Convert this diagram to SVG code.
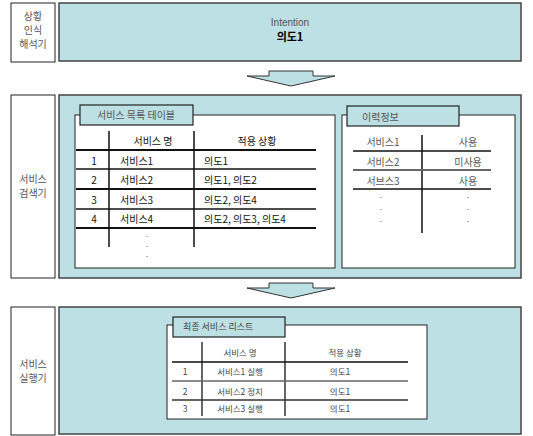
<svg xmlns="http://www.w3.org/2000/svg" width="533" height="436" viewBox="0 0 533 436">
<style>
.lbl{fill:#fff;stroke:#222;stroke-width:1}
.main{fill:#bce0e3;stroke:#444;stroke-width:1.5}
.panel{fill:#fff;stroke:#222;stroke-width:1}
.tab{fill:#bce0e3;stroke:#222;stroke-width:1.2}
.arrow{fill:#bce0e3;stroke:#333;stroke-width:1}
text{font-family:"Noto Sans CJK KR","Liberation Sans",sans-serif}
.side{font-size:10px;fill:#555;text-anchor:middle}
.t1{font-size:10px;fill:#111}
.t2{font-size:10px;fill:#555}
.t3{font-size:8.5px;fill:#444}
.dot{font-size:7px;fill:#222;text-anchor:middle}
.mid{text-anchor:middle}
.ln{stroke:#111;stroke-width:1.5}
.lg{stroke:#666;stroke-width:1.5}
</style>
<g id="row1-label"><rect class="lbl" x="11" y="3" width="44" height="59"/><text class="side" x="33" y="20">상황</text><text class="side" x="33" y="34">인식</text><text class="side" x="33" y="48">해석기</text></g>
<g id="row1-main"><rect class="main" x="59" y="3" width="462" height="58"/><text x="290" y="26" style="font-family:'Liberation Sans',sans-serif;font-size:10px;fill:#555;text-anchor:middle">Intention</text><text x="290" y="41" style="font-size:11px;font-weight:bold;fill:#000;text-anchor:middle">의도1</text></g>
<g id="row2-label"><rect class="lbl" x="11" y="95" width="44" height="183"/><text class="side" x="33" y="183">서비스</text><text class="side" x="33" y="197">검색기</text></g>
<g id="row2-main"><rect class="main" x="59" y="95" width="462" height="183"/></g>
<g id="service-table">
<rect class="panel" x="75" y="115" width="260" height="153"/>
<rect class="tab" x="80" y="105" width="113" height="20"/>
<text class="t2 mid" x="136" y="119">서비스 목록 테이블</text>
<line class="ln" x1="109" y1="131" x2="109" y2="247"/>
<line class="ln" x1="194" y1="131" x2="194" y2="247"/>
<line class="ln" x1="76" y1="150" x2="316" y2="150" style="stroke-width:2"/>
<line class="ln" x1="76" y1="169" x2="316" y2="169"/>
<line class="ln" x1="76" y1="189" x2="316" y2="189" style="stroke-width:2"/>
<line class="ln" x1="76" y1="209" x2="316" y2="209"/>
<line class="ln" x1="76" y1="228" x2="316" y2="228" style="stroke-width:2"/>
<text class="t1 mid" x="153" y="145">서비스 명</text>
<text class="t1 mid" x="257" y="145">적용 상황</text>
<text class="t1 mid" x="94" y="165">1</text><text class="t1" x="120" y="165">서비스1</text><text class="t1" x="204" y="165">의도1</text>
<text class="t1 mid" x="94" y="184">2</text><text class="t1" x="120" y="184">서비스2</text><text class="t1" x="204" y="184">의도1, 의도2</text>
<text class="t1 mid" x="94" y="204">3</text><text class="t1" x="120" y="204">서비스3</text><text class="t1" x="204" y="204">의도2, 의도4</text>
<text class="t1 mid" x="94" y="223">4</text><text class="t1" x="120" y="223">서비스4</text><text class="t1" x="204" y="223">의도2, 의도3, 의도4</text>
<text class="dot" x="147" y="237">.</text><text class="dot" x="147" y="247">.</text><text class="dot" x="147" y="257">.</text>
</g>
<g id="history">
<rect class="panel" x="342" y="115" width="173" height="153"/>
<rect class="tab" x="347" y="106" width="112" height="20"/>
<text class="t2" x="362" y="121">이력정보</text>
<line class="ln" x1="422" y1="135" x2="422" y2="233"/>
<line class="ln" x1="353" y1="151" x2="491" y2="151"/>
<line class="lg" x1="353" y1="170" x2="491" y2="170" style="stroke-width:2"/>
<line class="ln" x1="353" y1="189" x2="491" y2="189"/>
<text class="t2 mid" x="383" y="146">서비스1</text><text class="t2 mid" x="468" y="146">사용</text>
<text class="t2 mid" x="383" y="166">서비스2</text><text class="t2 mid" x="468" y="166">미사용</text>
<text class="t2 mid" x="383" y="185">서브스3</text><text class="t2 mid" x="468" y="185">사용</text>
<text class="dot" x="381" y="198">.</text><text class="dot" x="468" y="198">.</text>
<text class="dot" x="381" y="210">.</text><text class="dot" x="468" y="210">.</text>
<text class="dot" x="381" y="222">.</text><text class="dot" x="468" y="222">.</text>
</g>
<g id="row3-label"><rect class="lbl" x="11" y="307" width="44" height="128"/><text class="side" x="33" y="368">서비스</text><text class="side" x="33" y="382">실행기</text></g>
<g id="row3-main"><rect class="main" x="59" y="307" width="462" height="127"/></g>
<g id="final-list">
<rect class="panel" x="167" y="325" width="260" height="94"/>
<rect class="tab" x="173" y="317" width="112" height="20"/>
<text class="t3" x="183" y="330" style="font-size:9px">최종 서비스 리스트</text>
<line class="lg" x1="202" y1="342" x2="202" y2="416" style="stroke:#333"/>
<line class="lg" x1="285" y1="342" x2="285" y2="416" style="stroke-width:2"/>
<line class="ln" x1="172" y1="362" x2="408" y2="362"/>
<line class="lg" x1="172" y1="381" x2="408" y2="381"/>
<line class="lg" x1="172" y1="400" x2="408" y2="400" style="stroke:#333"/>
<text class="t3 mid" x="240" y="356">서비스 명</text><text class="t3 mid" x="345" y="356">적용 상황</text>
<text class="t3 mid" x="185" y="375">1</text><text class="t3 mid" x="240" y="375">서비스1 실행</text><text class="t3 mid" x="340" y="375">의도1</text>
<text class="t3 mid" x="185" y="395">2</text><text class="t3 mid" x="240" y="395">서비스2 정지</text><text class="t3 mid" x="340" y="395">의도1</text>
<text class="t3 mid" x="185" y="412">3</text><text class="t3 mid" x="240" y="412">서비스3 실행</text><text class="t3 mid" x="340" y="412">의도1</text>
</g>
<g id="connectors">
<polygon class="arrow" points="269,71 313,71 313,76 335,76 291,86 247,76 269,76"/>
<polygon class="arrow" points="269,283 313,283 313,288 335,288 291,298 247,288 269,288"/>
</g>
</svg>
